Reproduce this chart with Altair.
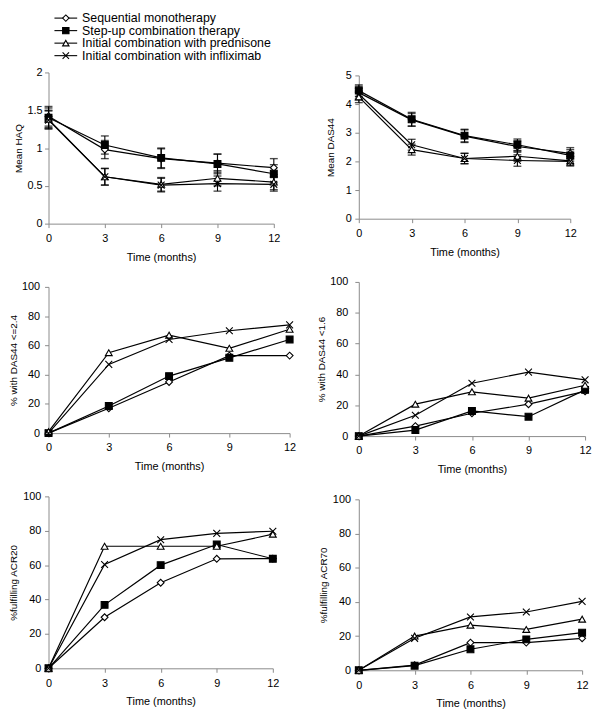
import altair as alt
import pandas as pd

months = [0, 3, 6, 9, 12]
series = [
    "Sequential monotherapy",
    "Step-up combination therapy",
    "Initial combination with prednisone",
    "Initial combination with infliximab",
]

# Mean HAQ (order: sequential, step-up, prednisone, infliximab)
haq_mean = [
    [1.42, 0.98, 0.86, 0.80, 0.74],
    [1.40, 1.04, 0.87, 0.79, 0.66],
    [1.38, 0.62, 0.52, 0.60, 0.55],
    [1.37, 0.62, 0.51, 0.53, 0.52],
]
haq_err = [
    [0.13, 0.12, 0.13, 0.12, 0.12],
    [0.13, 0.12, 0.13, 0.13, 0.12],
    [0.12, 0.11, 0.09, 0.10, 0.10],
    [0.12, 0.11, 0.09, 0.10, 0.09],
]
das_mean = [
    [4.40, 3.45, 2.88, 2.52, 2.28],
    [4.47, 3.47, 2.90, 2.58, 2.21],
    [4.25, 2.41, 2.10, 2.18, 2.02],
    [4.35, 2.58, 2.10, 2.03, 2.00],
]
das_err = [
    [0.22, 0.22, 0.22, 0.20, 0.20],
    [0.20, 0.24, 0.22, 0.20, 0.20],
    [0.20, 0.19, 0.18, 0.18, 0.16],
    [0.20, 0.19, 0.18, 0.20, 0.16],
]
das_le24 = [
    [0, 17, 35, 53, 53],
    [0, 18.5, 39, 51.5, 64],
    [1, 55, 67, 58, 71],
    [0, 47, 64, 70, 74],
]
das_lt16 = [
    [0, 6.5, 14.8, 20.7, 29],
    [0, 3.9, 16.3, 12.6, 30],
    [0, 20.7, 28.7, 24.6, 33],
    [0, 13.5, 34.3, 41.5, 36.5],
]
acr20 = [
    [0, 29.7, 49.8, 63.7, 63.8],
    [0, 36.9, 60, 72, 63.7],
    [0, 71, 71, 71, 78],
    [0, 60.4, 74.8, 78.5, 79.7],
]
acr70 = [
    [0, 3, 16.2, 16.2, 18.7],
    [0, 2.7, 12.3, 18.1, 22],
    [0, 20, 26.4, 23.9, 29.9],
    [0, 18.7, 31.2, 34.1, 40.3],
]

FONT = "Liberation Sans"
shape_scale = alt.Scale(domain=series, range=["diamond", "square", "triangle-up", "M-1,-1L1,1M-1,1L1,-1"])
fill_scale = alt.Scale(domain=series, range=["white", "black", "white", "white"])


def long_table(values, errs=None):
    rows = []
    for k, s in enumerate(series):
        for i, m in enumerate(months):
            v = values[k][i]
            row = {"series": s, "month": m, "value": v}
            if errs is not None:
                row["lo"] = v - errs[k][i]
                row["hi"] = v + errs[k][i]
            rows.append(row)
    return pd.DataFrame(rows)


def panel(values, errs, ytitle, ymax, ystep, w, h, lab_pad, title_pad):
    df = long_table(values, errs)
    n = int(round(ymax / ystep))
    yticks = [round(ystep * i, 6) for i in range(n + 1)]
    xaxis = alt.Axis(values=months, title="Time (months)", labelFlush=False,
                     tickSize=4, labelPadding=5, titlePadding=8, grid=False,
                     titleFontWeight="normal", titleFontSize=11)
    yaxis = alt.Axis(values=yticks, title=ytitle, labelExpr="'' + datum.value",
                     labelFlush=False, tickSize=4, labelPadding=lab_pad,
                     titlePadding=title_pad, grid=False, titleFontSize=10,
                     titleFontWeight="normal")
    xs = alt.Scale(domain=[0, 12], nice=False, zero=False)
    ys = alt.Scale(domain=[0, ymax], nice=False)
    x = alt.X("month:Q", scale=xs, axis=xaxis)
    base = alt.Chart(df)
    layers = [
        base.mark_line(color="black", strokeWidth=1.2).encode(
            x=x, y=alt.Y("value:Q", scale=ys, axis=yaxis),
            detail="series:N", order="month:Q")
    ]
    if errs is not None:
        layers.append(base.mark_rule(color="black", strokeWidth=1.1).encode(
            x=x, y=alt.Y("lo:Q", scale=ys, axis=yaxis), y2="hi:Q"))
        for f in ["lo", "hi"]:
            layers.append(base.mark_tick(color="black", orient="horizontal", size=8, thickness=1.4).encode(
                x=x, y=alt.Y(f + ":Q", scale=ys, axis=yaxis)))
    layers.append(base.mark_point(filled=True, stroke="black", strokeWidth=1.1, opacity=1, size=48).encode(
        x=x, y=alt.Y("value:Q", scale=ys, axis=yaxis),
        shape=alt.Shape("series:N", scale=shape_scale, legend=None),
        fill=alt.Fill("series:N", scale=fill_scale, legend=None)))
    return alt.layer(*layers).properties(width=w, height=h)


p1 = panel(haq_mean, haq_err, "Mean HAQ", 2, 0.5, 228, 153, 2.5, 3.6)
p3 = panel(das_le24, None, "% with DAS44 <=2.4", 100, 20, 244, 148, 5, 3)
p5 = panel(acr20, None, "%fulfilling ACR20", 100, 20, 227, 174, 3.7, 4.3)
p2 = panel(das_mean, das_err, "Mean DAS44", 5, 1, 214, 145, 3.7, 10)
p4 = panel(das_lt16, None, "% with DAS44 <1.6", 100, 20, 229, 156, 7, 3.6)
p6 = panel(acr70, None, "%fulfilling ACR70", 100, 20, 226, 173, 4.4, 4.2)

# legend built from the series list
leg_df = pd.DataFrame({"series": series})
ly = alt.Y("series:N", axis=None, scale=alt.Scale(type="point", domain=series, padding=0))
leg_base = alt.Chart(leg_df)
legend = alt.layer(
    leg_base.mark_rule(color="black", strokeWidth=1.1).encode(x=alt.value(6), x2=alt.value(29), y=ly),
    leg_base.mark_point(filled=True, stroke="black", strokeWidth=1.1, opacity=1, size=42).encode(
        x=alt.value(17.5), y=ly,
        shape=alt.Shape("series:N", scale=shape_scale, legend=None),
        fill=alt.Fill("series:N", scale=fill_scale, legend=None)),
    leg_base.mark_text(align="left", baseline="middle", fontSize=12.5, font=FONT, color="black").encode(
        x=alt.value(34), y=ly, text="series:N"),
).properties(width=200, height=38)

spacer = alt.Chart(pd.DataFrame({"a": [0]})).mark_point(opacity=0, size=0).encode(
    x=alt.value(0), y=alt.value(0)).properties(width=10, height=43)

left = alt.vconcat(legend, alt.vconcat(p1, p3, p5, spacing=19), spacing=4)
right = alt.vconcat(spacer, alt.vconcat(p2, p4, p6, spacing=19), spacing=9)

chart = alt.hconcat(left, right, spacing=20).properties(
    padding={"left": 0, "top": 0, "right": 0, "bottom": 0}
).configure_view(stroke=None).configure_axis(
    labelFont=FONT, titleFont=FONT, labelFontSize=11, titleFontSize=11,
    titleFontWeight="normal", labelColor="black", titleColor="black",
    domainColor="#8a8a8a", tickColor="#8a8a8a", grid=False
)

chart.save("out.html", embed_options={"renderer": "svg", "actions": False})
